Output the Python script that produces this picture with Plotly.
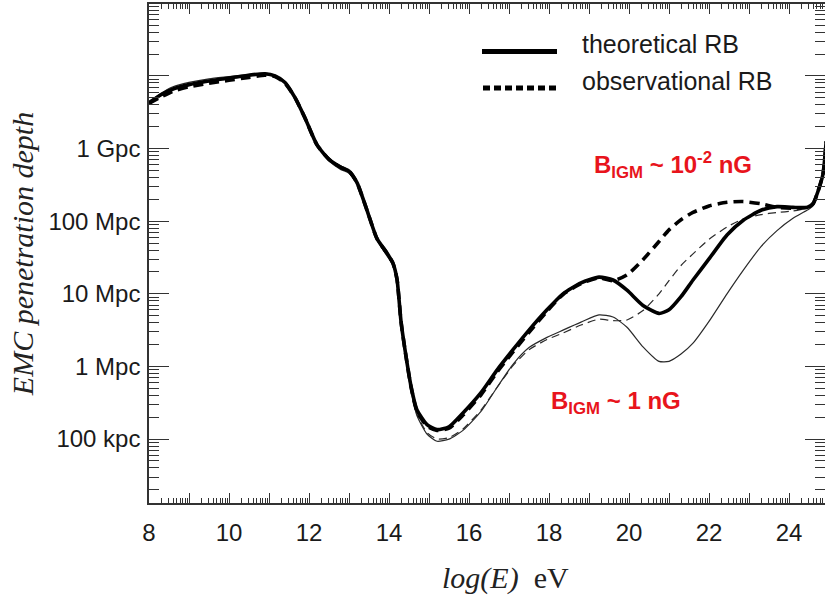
import numpy as np
import plotly.graph_objects as go

# ---------------- data ----------------
log_E = [8.0, 8.3, 8.6, 9.0, 9.5, 10.0, 10.5, 10.9, 11.15, 11.4, 11.65, 11.9, 12.2, 12.5,
         12.8, 13.0, 13.2, 13.45, 13.7, 13.95, 14.1, 14.2, 14.3, 14.4, 14.55, 14.7, 14.95,
         15.2, 15.5, 15.85, 16.3, 16.7, 17.1, 17.5, 17.95, 18.35, 18.8, 19.25, 19.6, 19.95,
         20.35, 20.75, 21.0, 21.3, 21.6, 22.0, 22.45, 22.85, 23.3, 23.7, 24.1, 24.45, 24.6,
         24.73, 24.85, 24.93]

# log10(depth / Mpc)
theo_B001 = [3.63, 3.74, 3.82, 3.88, 3.93, 3.97, 4.01, 4.03, 4.00, 3.91, 3.70, 3.42, 3.05, 2.85,
             2.74, 2.69, 2.53, 2.15, 1.76, 1.56, 1.42, 1.20, 0.62, 0.23, -0.27, -0.60, -0.80,
             -0.87, -0.83, -0.64, -0.36, -0.05, 0.23, 0.50, 0.78, 1.00, 1.15, 1.23, 1.19, 1.05,
             0.84, 0.73, 0.78, 0.96, 1.19, 1.48, 1.81, 2.01, 2.15, 2.20, 2.19, 2.19, 2.24,
             2.42, 2.65, 3.10]
obs_B001 = [3.62, 3.71, 3.79, 3.85, 3.90, 3.94, 3.98, 4.01, 3.99, 3.90, 3.70, 3.42, 3.05, 2.85,
            2.74, 2.69, 2.53, 2.15, 1.76, 1.56, 1.42, 1.20, 0.62, 0.23, -0.28, -0.62, -0.82,
            -0.88, -0.85, -0.67, -0.39, -0.08, 0.20, 0.47, 0.76, 0.99, 1.14, 1.22, 1.18, 1.26,
            1.47, 1.72, 1.88, 2.02, 2.12, 2.21, 2.26, 2.27, 2.24, 2.19, 2.18, 2.19, 2.24,
            2.42, 2.65, 3.10]
theo_B1 = [3.64, 3.76, 3.85, 3.91, 3.96, 3.99, 4.02, 4.04, 4.01, 3.92, 3.71, 3.43, 3.06, 2.83,
           2.71, 2.66, 2.51, 2.13, 1.74, 1.52, 1.40, 1.18, 0.60, 0.18, -0.33, -0.68, -0.93,
           -1.03, -1.00, -0.88, -0.62, -0.29, 0.03, 0.26, 0.40, 0.50, 0.61, 0.71, 0.68, 0.54,
           0.27, 0.07, 0.07, 0.17, 0.32, 0.62, 1.00, 1.32, 1.65, 1.87, 2.04, 2.15, 2.21,
           2.42, 2.65, 3.10]
obs_B1 = [3.63, 3.73, 3.81, 3.87, 3.92, 3.96, 4.00, 4.02, 4.00, 3.91, 3.70, 3.42, 3.05, 2.84,
          2.72, 2.67, 2.52, 2.14, 1.75, 1.53, 1.41, 1.19, 0.61, 0.19, -0.31, -0.66, -0.91,
          -1.00, -0.98, -0.86, -0.60, -0.29, 0.01, 0.23, 0.37, 0.46, 0.57, 0.65, 0.63, 0.64,
          0.77, 1.00, 1.18, 1.39, 1.55, 1.75, 1.92, 2.03, 2.09, 2.12, 2.14, 2.18, 2.22,
          2.42, 2.65, 3.10]

x_label_vals = [8, 10, 12, 14, 16, 18, 20, 22, 24]
x_label_text = [str(v) for v in x_label_vals]
x_unlabeled_major = [9, 11, 13, 15, 17, 19, 21, 23]
y_label_vals = [0.1, 1, 10, 100, 1000]
y_label_text = ["100 kpc", "1 Mpc", "10 Mpc", "100 Mpc", "1 Gpc"]
y_unlabeled_major = [10000]

legend_labels = ["theoretical RB", "observational RB"]
field_labels = ["B<sub>IGM</sub> ~ 10<sup>-2</sup> nG", "B<sub>IGM</sub> ~ 1 nG"]
x_title = "<i>log(E)</i>\u00a0\u00a0eV"
y_title = "<i>EMC penetration depth</i>"

# ---------------- layout helpers ----------------
W, H = 825, 598
L, R, T, B = 149, 825, 4, 503
X_RANGE = [8, 24.9]
Y_RANGE = [-1.88, 4.99]


def px(xp):
    return (xp - L) / (R - L)


def py(yp):
    return (B - yp) / (B - T)


fig = go.Figure()


def add(y, width, dash, color):
    fig.add_trace(go.Scatter(
        x=log_E, y=[10 ** v for v in y], mode="lines",
        line=dict(color=color, width=width, dash=dash, shape="spline", smoothing=0.6),
        showlegend=False, hoverinfo="skip"))


add(theo_B1, 1.2, "solid", "#2a2a2a")
add(obs_B1, 1.2, "8px,5px", "#2a2a2a")
add(obs_B001, 3.6, "10px,6px", "#000000")
add(theo_B001, 3.6, "solid", "#000000")

# helper trace that anchors the overlay axes for the unlabeled major ticks
fig.add_trace(go.Scatter(x=[None], y=[None], xaxis="x2", yaxis="y2", mode="lines",
                         showlegend=False, hoverinfo="skip"))

x_minor = [n + np.log10(k) for n in range(8, 25) for k in range(2, 10) if n + np.log10(k) < 24.9]
y_minor = [k * 10.0 ** n for n in range(-2, 5) for k in range(2, 10)]

axis_col = "#333333"
tick_font = dict(family="Liberation Sans, Arial", size=24, color="#1a1a1a")
X_MAJ, X_MIN, Y_MAJ, Y_MIN = 10, 5, 20, 10

fig.update_layout(
    xaxis=dict(
        range=X_RANGE, tickmode="array", tickvals=x_label_vals, ticktext=x_label_text,
        ticks="inside", ticklen=X_MAJ, tickwidth=1.2, tickcolor=axis_col,
        minor=dict(tickvals=x_minor, ticks="inside", ticklen=X_MIN, tickwidth=1, tickcolor=axis_col),
        showline=True, linecolor=axis_col, linewidth=1.5, mirror="ticks",
        showgrid=False, zeroline=False, tickfont=tick_font, ticklabelstandoff=7,
    ),
    yaxis=dict(
        type="log", range=Y_RANGE, tickmode="array", tickvals=y_label_vals, ticktext=y_label_text,
        ticks="inside", ticklen=Y_MAJ, tickwidth=1.2, tickcolor=axis_col,
        minor=dict(tickvals=y_minor, ticks="inside", ticklen=Y_MIN, tickwidth=1, tickcolor=axis_col),
        showline=True, linecolor=axis_col, linewidth=1.5, mirror="ticks",
        showgrid=False, zeroline=False, tickfont=tick_font, ticklabelstandoff=2,
        title=dict(text=y_title,
                   font=dict(family="Liberation Serif, Times New Roman", size=30, color="#222"),
                   standoff=6),
    ),
    xaxis2=dict(
        overlaying="x", anchor="y2", range=X_RANGE, tickmode="array", tickvals=x_unlabeled_major,
        ticks="inside", ticklen=X_MAJ, tickwidth=1.2, tickcolor=axis_col, showticklabels=False,
        showline=False, mirror="ticks", showgrid=False, zeroline=False,
    ),
    yaxis2=dict(
        overlaying="y", anchor="x2", type="log", range=Y_RANGE, tickmode="array",
        tickvals=y_unlabeled_major, ticks="inside", ticklen=Y_MAJ, tickwidth=1.2, tickcolor=axis_col,
        showticklabels=False, showline=False, mirror="ticks", showgrid=False, zeroline=False,
    ),
)

# x-axis title text
fig.add_annotation(x=px(505), y=py(578), xref="paper", yref="paper", text=x_title,
                   showarrow=False, xanchor="center", yanchor="middle",
                   font=dict(family="Liberation Serif, Times New Roman", size=30, color="#222"))

# legend (drawn samples + labels)
fig.add_shape(type="line", xref="paper", yref="paper", x0=px(482), x1=px(557), y0=py(51.5), y1=py(51.5),
              line=dict(color="#000", width=5))
fig.add_shape(type="line", xref="paper", yref="paper", x0=px(483), x1=px(556), y0=py(88), y1=py(88),
              line=dict(color="#000", width=5, dash="7px,4px"))
legend_font = dict(family="Liberation Sans, Arial", size=25, color="#1a1a1a")
fig.add_annotation(x=px(580), y=py(44), xref="paper", yref="paper", text=legend_labels[0],
                   showarrow=False, xanchor="left", yanchor="middle", font=legend_font)
fig.add_annotation(x=px(580), y=py(81), xref="paper", yref="paper", text=legend_labels[1],
                   showarrow=False, xanchor="left", yanchor="middle", font=legend_font)

red_font = dict(family="Liberation Sans, Arial", size=24, color="#e8141c")
fig.add_annotation(x=px(673), y=py(165), xref="paper", yref="paper", text="<b>" + field_labels[0] + "</b>",
                   showarrow=False, xanchor="center", yanchor="middle", font=red_font)
fig.add_annotation(x=px(616), y=py(402), xref="paper", yref="paper", text="<b>" + field_labels[1] + "</b>",
                   showarrow=False, xanchor="center", yanchor="middle", font=red_font)

fig.update_layout(
    width=W, height=H, margin=dict(l=L, r=W - R, t=T, b=H - B, autoexpand=False),
    paper_bgcolor="white", plot_bgcolor="white", showlegend=False,
)

fig.write_html("out.html")
